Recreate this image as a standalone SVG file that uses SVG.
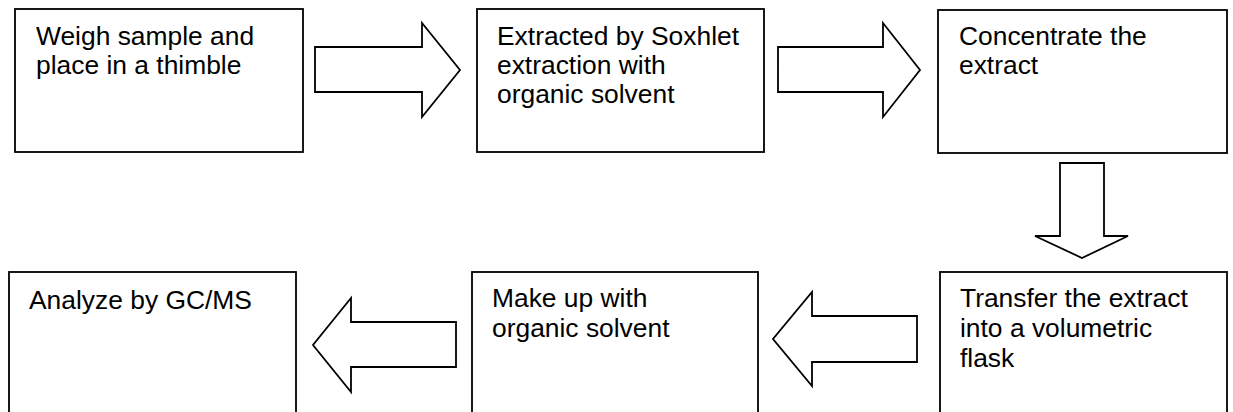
<svg xmlns="http://www.w3.org/2000/svg" width="1233" height="412" viewBox="0 0 1233 412">
<style>
.box{fill:#fff;stroke:#000;stroke-width:1.8}
.arr{fill:#fff;stroke:#000;stroke-width:1.8;stroke-linejoin:miter}
.t{font-family:"Liberation Sans",Arial,sans-serif;font-size:26.4px;fill:#000}
</style>
<rect width="1233" height="412" fill="#fff"/>
<g id="n1"><rect class="box" x="15" y="9" width="288" height="143"/>
<text class="t" x="36" y="45">Weigh sample and</text>
<text class="t" x="36" y="74">place in a thimble</text></g>
<g id="n2"><rect class="box" x="477" y="9" width="287" height="143"/>
<text class="t" x="497" y="45">Extracted by Soxhlet</text>
<text class="t" x="497" y="74">extraction with</text>
<text class="t" x="497" y="103">organic solvent</text></g>
<g id="n3"><rect class="box" x="938" y="10" width="289" height="143"/>
<text class="t" x="959" y="45">Concentrate the</text>
<text class="t" x="959" y="74">extract</text></g>
<g id="n4"><rect class="box" x="940" y="272" width="287" height="150"/>
<text class="t" x="960" y="307">Transfer the extract</text>
<text class="t" x="960" y="337">into a volumetric</text>
<text class="t" x="960" y="367">flask</text></g>
<g id="n5"><rect class="box" x="472" y="272" width="286" height="150"/>
<text class="t" x="492" y="307">Make up with</text>
<text class="t" x="492" y="337">organic solvent</text></g>
<g id="n6"><rect class="box" x="9" y="272" width="287" height="150"/>
<text class="t" x="29" y="309">Analyze by GC/MS</text></g>
<g id="connectors">
<polygon class="arr" points="315,47 422,47 422,23 460,70 422,117 422,92 315,92"/>
<polygon class="arr" points="778,47 883,47 883,23 920,70 883,117 883,92 778,92"/>
<polygon class="arr" points="1060,163 1104,163 1104,236 1128,236 1082,258 1035,236 1060,236"/>
<polygon class="arr" points="917,316 812,316 812,292 773,339 812,386 812,362 917,362"/>
<polygon class="arr" points="456,322 351,322 351,298 313,345 351,392 351,367 456,367"/>
</g>
</svg>
